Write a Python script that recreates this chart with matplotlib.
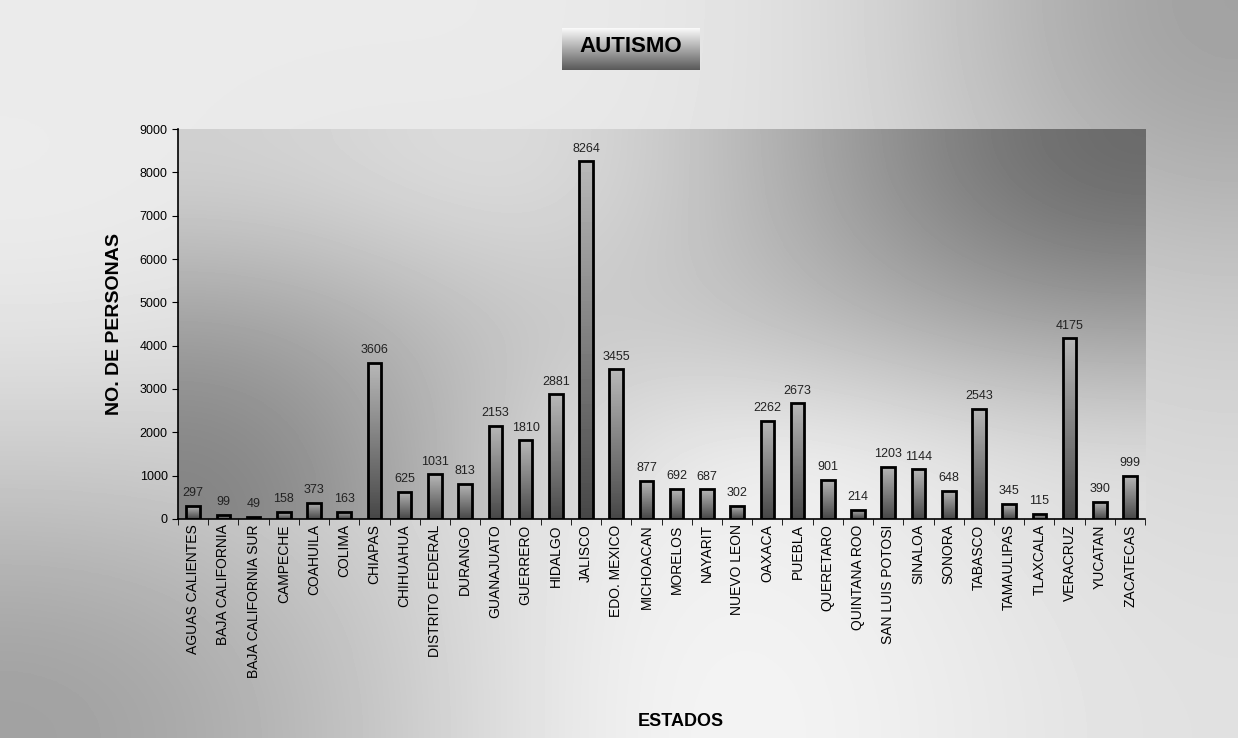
import numpy as np
import matplotlib

matplotlib.use("Agg")
import matplotlib.pyplot as plt
from matplotlib.patches import Rectangle
from matplotlib.ticker import MultipleLocator

estados = [
    "AGUAS CALIENTES", "BAJA CALIFORNIA", "BAJA CALIFORNIA SUR", "CAMPECHE",
    "COAHUILA", "COLIMA", "CHIAPAS", "CHIHUAHUA", "DISTRITO FEDERAL", "DURANGO",
    "GUANAJUATO", "GUERRERO", "HIDALGO", "JALISCO", "EDO. MEXICO", "MICHOACAN",
    "MORELOS", "NAYARIT", "NUEVO LEON", "OAXACA", "PUEBLA", "QUERETARO",
    "QUINTANA ROO", "SAN LUIS POTOSI", "SINALOA", "SONORA", "TABASCO",
    "TAMAULIPAS", "TLAXCALA", "VERACRUZ", "YUCATAN", "ZACATECAS",
]
personas = [
    297, 99, 49, 158, 373, 163, 3606, 625, 1031, 813,
    2153, 1810, 2881, 8264, 3455, 877, 692, 687, 302, 2262,
    2673, 901, 214, 1203, 1144, 648, 2543, 345, 115, 4175,
    390, 999,
]

plt.rcParams["font.family"] = ["Liberation Sans", "DejaVu Sans"]

fig = plt.figure(figsize=(12.38, 7.38), dpi=100)

# figure background: scanned-looking gray gradient (rows top -> bottom)
fig_shade = np.array([
    [0.92, 0.92, 0.92, 0.86, 0.62],
    [0.93, 0.88, 0.90, 0.86, 0.78],
    [0.80, 0.82, 0.93, 0.92, 0.85],
    [0.62, 0.76, 0.97, 0.95, 0.88],
])
bg = fig.add_axes([0, 0, 1, 1], zorder=-10)
bg.imshow(fig_shade, cmap="gray", vmin=0, vmax=1, aspect="auto",
          extent=[0, 1, 0, 1], origin="upper", interpolation="bicubic")
bg.set_axis_off()

ax = fig.add_axes([0.1438, 0.297, 0.7812, 0.528])
x = np.arange(len(estados))

# plot area gradient: light top-centre, dark top-right, white lower-right
plot_shade = np.array([
    [0.82, 0.90, 0.70, 0.40],
    [0.62, 0.80, 0.75, 0.62],
    [0.50, 0.86, 0.98, 0.88],
])
ax.imshow(plot_shade, cmap="gray", vmin=0, vmax=1, aspect="auto",
          extent=[-0.5, len(estados) - 0.5, 0, 9000], origin="upper",
          interpolation="bicubic", zorder=0)

grad = np.linspace(0.72, 0.28, 100).reshape(-1, 1)
width = 0.45
for xi, v in zip(x, personas):
    rect = Rectangle((xi - width / 2, 0), width, v, facecolor="none",
                     edgecolor="black", linewidth=2, zorder=3)
    ax.add_patch(rect)
    im = ax.imshow(grad, cmap="gray", vmin=0, vmax=1, aspect="auto",
                   extent=[xi - width / 2, xi + width / 2, 0, v],
                   origin="upper", zorder=2)
    im.set_clip_path(rect)
    ax.text(xi, v + 150, f"{v}", ha="center", va="bottom", fontsize=9,
            color="#222222")

ax.set_xlim(-0.5, len(estados) - 0.5)
ax.set_ylim(0, 9000)
ax.yaxis.set_major_locator(MultipleLocator(1000))
ax.tick_params(axis="y", labelsize=9, length=4, direction="out")
ax.set_xticks(x)
ax.set_xticklabels(estados, rotation=90, fontsize=10)
ax.tick_params(axis="x", length=0, pad=4)
ax.set_xticks(np.arange(-0.5, len(estados), 1), minor=True)
ax.tick_params(axis="x", which="minor", length=4, direction="out")
for side in ("top", "right"):
    ax.spines[side].set_visible(False)
ax.spines["left"].set_linewidth(1.2)
ax.spines["bottom"].set_linewidth(1.2)

ax.set_ylabel("NO. DE PERSONAS", fontsize=14, fontweight="bold", labelpad=12)
fig.text(0.55, 0.022, "ESTADOS", ha="center", va="center", fontsize=13,
         fontweight="bold")

# title box with vertical gradient
tax = fig.add_axes([562 / 1238, 1 - 70 / 738, 138 / 1238, 42 / 738], zorder=5)
tgrad = np.linspace(0.98, 0.35, 100).reshape(-1, 1)
tax.imshow(tgrad, cmap="gray", vmin=0, vmax=1, aspect="auto",
           extent=[0, 1, 0, 1], origin="upper")
tax.text(0.5, 0.55, "AUTISMO", ha="center", va="center", fontsize=16,
         fontweight="bold", transform=tax.transAxes)
tax.set_axis_off()

fig.savefig("out.png", dpi=100)
